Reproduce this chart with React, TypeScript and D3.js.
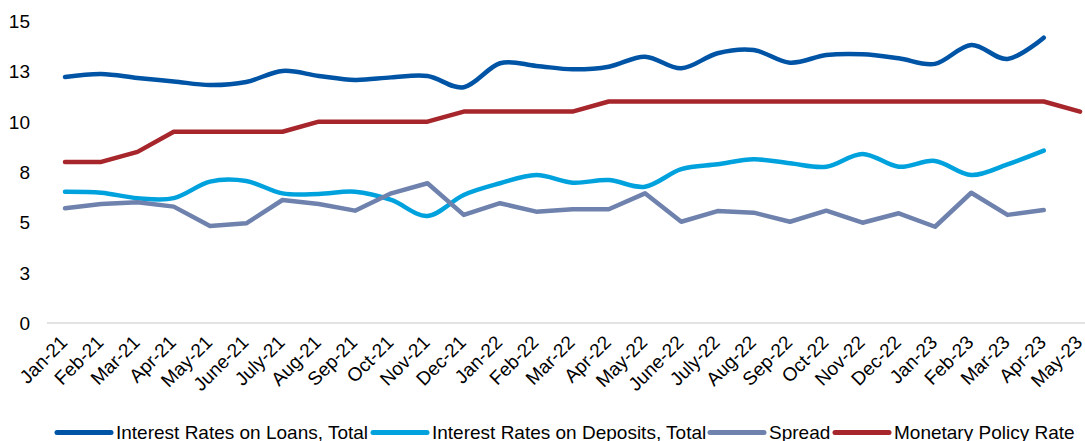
import React from "react";
import * as d3 from "d3";

const categories = [
  "Jan-21","Feb-21","Mar-21","Apr-21","May-21","June-21","July-21","Aug-21","Sep-21","Oct-21","Nov-21","Dec-21",
  "Jan-22","Feb-22","Mar-22","Apr-22","May-22","June-22","July-22","Aug-22","Sep-22","Oct-22","Nov-22","Dec-22",
  "Jan-23","Feb-23","Mar-23","Apr-23","May-23",
];

const loans: (number | null)[] = [
  12.22, 12.37, 12.17, 12.0, 11.82, 11.97, 12.52, 12.27, 12.07, 12.2, 12.27, 11.71,
  12.9, 12.77, 12.6, 12.73, 13.23, 12.65, 13.4, 13.56, 12.93, 13.31, 13.35, 13.15,
  12.87, 13.81, 13.11, 14.17, null,
];

const deposits: (number | null)[] = [
  6.52, 6.47, 6.2, 6.2, 7.02, 7.05, 6.44, 6.41, 6.52, 6.11, 5.32, 6.36,
  6.94, 7.35, 6.97, 7.1, 6.77, 7.64, 7.88, 8.13, 7.93, 7.76, 8.4, 7.76,
  8.05, 7.35, 7.88, 8.56, null,
];

const spread: (number | null)[] = [
  5.7, 5.91, 6.0, 5.78, 4.82, 4.95, 6.11, 5.91, 5.58, 6.44, 6.94, 5.37,
  5.95, 5.53, 5.65, 5.65, 6.44, 5.03, 5.56, 5.48, 5.03, 5.58, 4.98, 5.45,
  4.78, 6.47, 5.37, 5.61, null,
];

const policyRate: (number | null)[] = [
  8.0, 8.0, 8.5, 9.5, 9.5, 9.5, 9.5, 10.0, 10.0, 10.0, 10.0, 10.5,
  10.5, 10.5, 10.5, 11.0, 11.0, 11.0, 11.0, 11.0, 11.0, 11.0, 11.0, 11.0,
  11.0, 11.0, 11.0, 11.0, 10.5,
];

const yTicks = [0, 2.5, 5, 7.5, 10, 12.5, 15];

const seriesList = [
  { name: "Interest Rates on Loans, Total", values: loans, color: "#0054A6", smooth: true },
  { name: "Interest Rates on Deposits, Total", values: deposits, color: "#00A2DE", smooth: true },
  { name: "Spread", values: spread, color: "#6E82AD", smooth: false },
  { name: "Monetary Policy Rate", values: policyRate, color: "#A6262B", smooth: false },
];

const legendX = [57, 373, 710, 835];

export default function App() {
  const W = 1085;
  const H = 441;
  const x = d3.scalePoint<string>().domain(categories).range([65, 1080]);
  const y = d3.scaleLinear().domain([0, 15]).range([323, 21]);
  const font = "'Liberation Sans', Arial, sans-serif";
  const fs = 19;

  return (
    <svg
      width={W}
      height={H}
      style={{ position: "absolute", left: 0, top: 0, background: "#fff" }}
      fontFamily={font}
    >
      <line x1={47} x2={1085} y1={y(0)} y2={y(0)} stroke="#D9D9D9" strokeWidth={1.5} />
      {yTicks.map((t) => (
        <text key={t} x={30} y={y(t)} dy="0.36em" textAnchor="end" fontSize={fs} fill="#000">
          {d3.format(".0f")(t)}
        </text>
      ))}
      {categories.map((c) => (
        <text
          key={c}
          transform={`translate(${(x(c) as number) - 6},${334}) rotate(-45)`}
          textAnchor="end"
          dy="0.71em"
          fontSize={fs}
          fill="#000"
        >
          {c}
        </text>
      ))}
      {seriesList.map((s) => {
        const line = d3
          .line<number | null>()
          .defined((d) => d != null)
          .x((_, i) => x(categories[i]) as number)
          .y((d) => y(d as number))
          .curve(s.smooth ? d3.curveCardinal.tension(0) : d3.curveLinear);
        return (
          <path
            key={s.name}
            d={line(s.values) || ""}
            fill="none"
            stroke={s.color}
            strokeWidth={4.5}
            strokeLinecap="round"
            strokeLinejoin="round"
          />
        );
      })}
      {seriesList.map((s, i) => (
        <g key={s.name}>
          <line
            x1={legendX[i]}
            x2={legendX[i] + 54}
            y1={432.5}
            y2={432.5}
            stroke={s.color}
            strokeWidth={5}
            strokeLinecap="round"
          />
          <text x={legendX[i] + 59} y={432.5} dy="0.36em" fontSize={fs} fill="#000">
            {s.name}
          </text>
        </g>
      ))}
    </svg>
  );
}
